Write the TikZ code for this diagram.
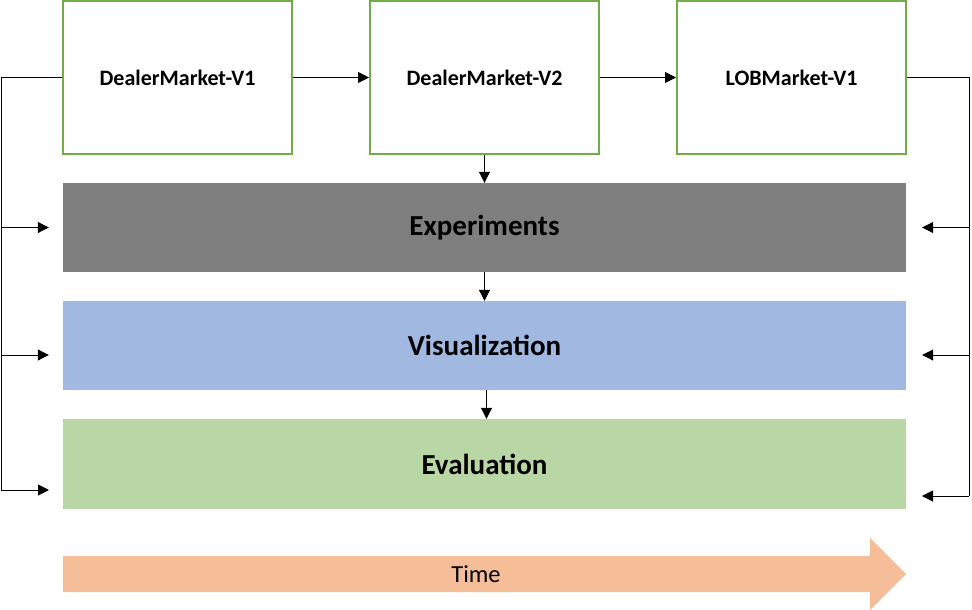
\documentclass[tikz,border=0pt]{standalone}
\usepackage{fontspec}
\setmainfont{Carlito}
\usetikzlibrary{arrows.meta}

\definecolor{mgreen}{HTML}{70AD47}
\definecolor{expgray}{HTML}{7F7F7F}
\definecolor{visblue}{HTML}{A1B8E0}
\definecolor{evagreen}{HTML}{B9D6A5}
\definecolor{timeorange}{HTML}{F6BE98}

\begin{document}
\begin{tikzpicture}[x=1pt,y=-1pt]
  \tikzset{market/.style={draw=mgreen,line width=2pt,fill=white,minimum width=229pt,minimum height=153pt,font=\bfseries\fontsize{22}{25}\selectfont},
           stage/.style={fill=#1,minimum width=843pt,minimum height=89pt,font=\bfseries\fontsize{29}{32}\selectfont},
           arr/.style={-{Triangle[length=11pt,width=11pt]},line width=1pt}}
  \useasboundingbox (0,0) rectangle (972,610);

  \node [market] (dm1) at (177.5,77.5) {DealerMarket-V1};
  \node [market] (dm2) at (484.5,77.5) {DealerMarket-V2};
  \node [market] (lob) at (791.5,77.5) {LOBMarket-V1};
  \node [stage = expgray] (exp) at (484.5,227.5) {\raisebox{-2pt}{Experiments}};
  \node [stage = visblue] (vis) at (484.5,345.5) {\raisebox{-4pt}{Visualization}};
  \node [stage = evagreen,minimum height=90pt] (eva) at (484.5,464) {Evaluation};

  % time arrow
  \fill [timeorange] (63,556) -- (870,556) -- (870,538) -- (906,574) -- (870,610) -- (870,592) -- (63,592) -- cycle;
  \node [font=\fontsize{24.5}{27}\selectfont] (time) at (476,574) {Time};

  \draw [arr] (dm1) -- (dm2);
  \draw [arr] (dm2) -- (lob);
  \draw [arr] (dm2.south) -- (exp.north);
  \draw [arr] (exp.south) -- (vis.north);
  \draw [arr] ([xshift=2pt]vis.south) -- ([xshift=2pt]eva.north);

  % side buses
  \coordinate (lbus) at (1,77.5);
  \coordinate (lend) at (1,490);
  \coordinate (rbus) at (969,77.5);
  \coordinate (rend) at (969,496);
  \draw [line width=1pt] (dm1.west) -- (lbus) -- (lend);
  \draw [line width=1pt] (lob.east) -- (rbus) -- (rend);

  \draw [arr] (exp.west -| lbus) -- ([xshift=-14pt]exp.west);
  \draw [arr] ([yshift=-9.5pt]vis.west -| lbus) -- ([xshift=-14pt,yshift=-9.5pt]vis.west);
  \draw [arr] (lend) -- (lend -| 49,0);
  \draw [arr] (exp.east -| rbus) -- ([xshift=16pt]exp.east);
  \draw [arr] ([yshift=-9.5pt]vis.east -| rbus) -- ([xshift=16pt,yshift=-9.5pt]vis.east);
  \draw [arr] (rend) -- (rend -| 922,0);
\end{tikzpicture}
\end{document}
